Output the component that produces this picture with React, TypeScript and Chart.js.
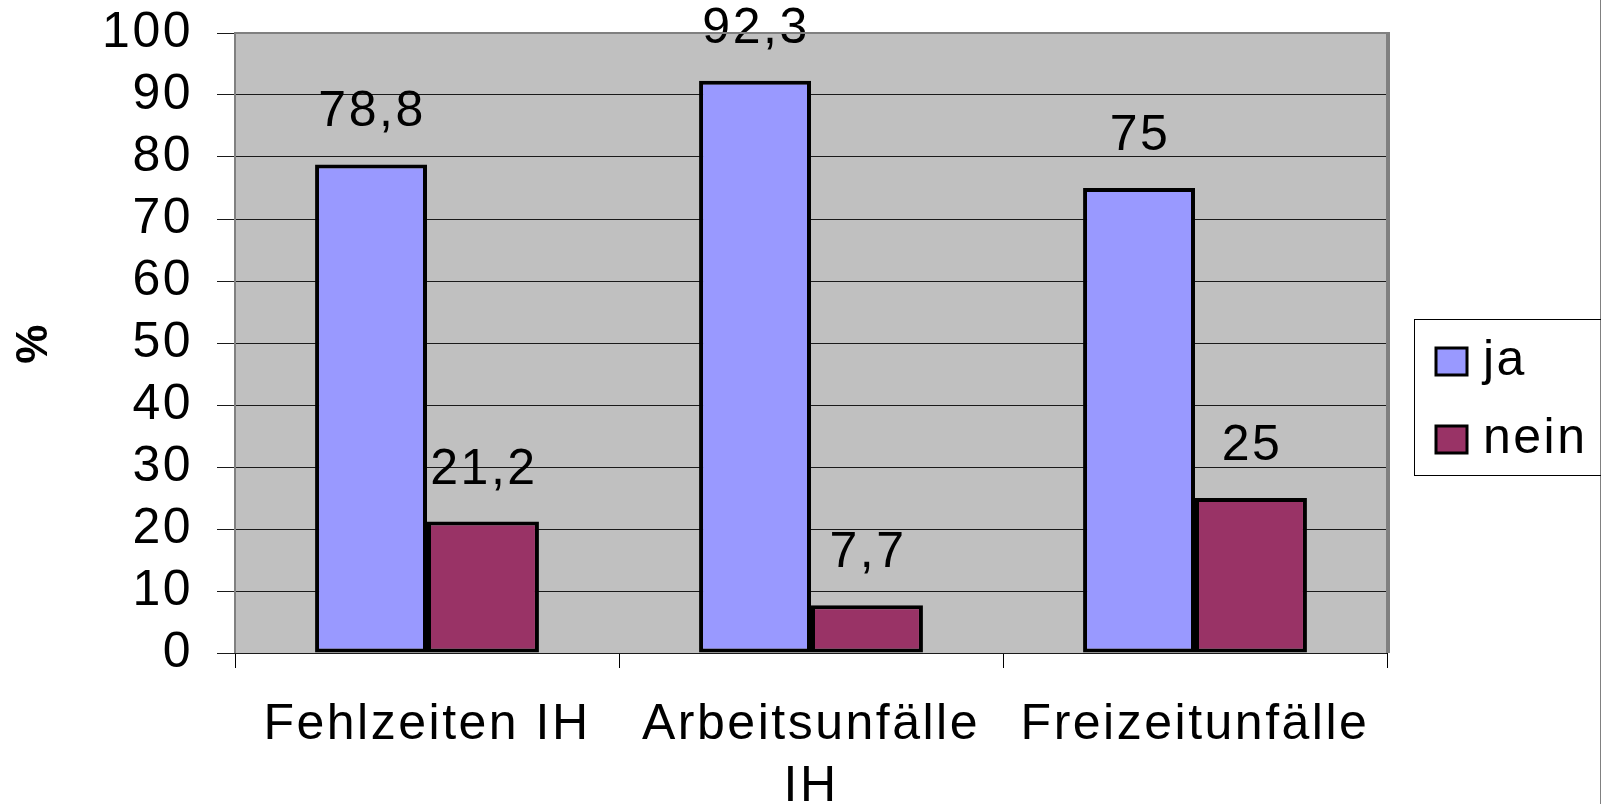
import React, { useEffect, useRef } from "react";
import { Chart, registerables } from "chart.js";

Chart.register(...registerables);

const categories: (string | string[])[] = ["Fehlzeiten IH", ["Arbeitsunfälle", "IH"], "Freizeitunfälle"];
const jaValues = [78.8, 92.3, 75];
const neinValues = [21.2, 7.7, 25];
const seriesNames = ["ja", "nein"];
const yTicksMin = 0;
const yTicksMax = 100;
const yTicksStep = 10;

const FONT = "'Liberation Sans', Arial, sans-serif";
const JA_COLOR = "#9999FF";
const NEIN_COLOR = "#993366";
const SPACING = "2.5px";

const spacingPlugin = {
  id: "spacing",
  beforeLayout(chart: any) {
    chart.ctx.letterSpacing = SPACING;
  },
  beforeDraw(chart: any) {
    chart.ctx.letterSpacing = SPACING;
  },
};

const framePlugin = {
  id: "frame",
  beforeDraw(chart: any) {
    const { ctx, chartArea } = chart;
    ctx.save();
    ctx.fillStyle = "#ffffff";
    ctx.fillRect(0, 0, chart.width, chart.height);
    ctx.fillStyle = "#C0C0C0";
    ctx.fillRect(chartArea.left, chartArea.top, chartArea.right - chartArea.left, chartArea.bottom - chartArea.top);
    ctx.restore();
  },
  afterDraw(chart: any) {
    const { ctx, chartArea } = chart;
    ctx.save();
    ctx.strokeStyle = "#808080";
    ctx.lineWidth = 2;
    ctx.beginPath();
    ctx.moveTo(chartArea.left, chartArea.bottom);
    ctx.lineTo(chartArea.left, chartArea.top);
    ctx.lineTo(chartArea.right, chartArea.top);
    ctx.stroke();
    ctx.lineWidth = 4;
    ctx.beginPath();
    ctx.moveTo(chartArea.right + 1, chartArea.top - 1);
    ctx.lineTo(chartArea.right + 1, chartArea.bottom);
    ctx.stroke();
    // outer frame line on right edge
    ctx.lineWidth = 1;
    ctx.beginPath();
    ctx.moveTo(chart.width - 0.5, 0);
    ctx.lineTo(chart.width - 0.5, chart.height);
    ctx.stroke();
    // legend
    const lx = 1414.5, ly = 319.5, lh = 156;
    ctx.strokeStyle = "#000000";
    ctx.lineWidth = 1;
    ctx.strokeRect(lx, ly, 220, lh);
    const colors = [JA_COLOR, NEIN_COLOR];
    const baselines = [375, 453];
    ctx.font = `50px ${FONT}`;
    ctx.letterSpacing = SPACING;
    ctx.textBaseline = "alphabetic";
    ctx.textAlign = "left";
    seriesNames.forEach((name, i) => {
      const sy = baselines[i] - 27;
      ctx.fillStyle = colors[i];
      ctx.fillRect(1436, sy, 31, 27);
      ctx.lineWidth = 3;
      ctx.strokeStyle = "#000";
      ctx.strokeRect(1436, sy, 31, 27);
      ctx.fillStyle = "#000";
      ctx.fillText(name, 1483, baselines[i]);
    });
    ctx.restore();
  },
};

const labelPlugin = {
  id: "valueLabels",
  afterDatasetsDraw(chart: any) {
    const { ctx } = chart;
    ctx.save();
    ctx.font = `50px ${FONT}`;
    ctx.letterSpacing = SPACING;
    ctx.fillStyle = "#000";
    ctx.textAlign = "center";
    ctx.textBaseline = "alphabetic";
    chart.data.datasets.forEach((ds: any, di: number) => {
      const meta = chart.getDatasetMeta(di);
      meta.data.forEach((el: any, i: number) => {
        const v = ds.data[i];
        const txt = String(v).replace(".", ",");
        ctx.fillText(txt, el.x + 1, el.y - 38);
      });
    });
    ctx.restore();
  },
};

export default function App() {
  const ref = useRef<HTMLCanvasElement>(null);
  useEffect(() => {
    if (!ref.current) return;
    const chart = new Chart(ref.current, {
      type: "bar",
      data: {
        labels: categories,
        datasets: [
          {
            label: seriesNames[0],
            data: jaValues,
            backgroundColor: JA_COLOR,
            borderColor: "#000",
            borderWidth: 4,
            borderSkipped: false,
            barPercentage: 1,
            categoryPercentage: 0.583,
          },
          {
            label: seriesNames[1],
            data: neinValues,
            backgroundColor: NEIN_COLOR,
            borderColor: "#000",
            borderWidth: 4,
            borderSkipped: false,
            barPercentage: 1,
            categoryPercentage: 0.583,
          },
        ],
      },
      options: {
        responsive: false,
        maintainAspectRatio: false,
        animation: false,
        layout: { padding: { top: 33, right: 214, left: 0, bottom: 0 } },
        plugins: {
          legend: { display: false },
          tooltip: { enabled: false },
        },
        scales: {
          x: {
            grid: {
              drawOnChartArea: false,
              offset: true,
              color: "#000",
              tickLength: 15,
              tickWidth: 1,
            },
            border: { display: false },
            ticks: {
              font: { family: FONT, size: 50, lineHeight: 1.24 },
              color: "#000",
              padding: 26,
              maxRotation: 0,
              autoSkip: false,
            },
            afterFit(scale: any) {
              scale.height = 151;
              scale.paddingLeft = 0;
              scale.paddingRight = 0;
            },
          },
          y: {
            min: yTicksMin,
            max: yTicksMax,
            grid: { color: "#1a1a1a", lineWidth: 1, tickLength: 18 },
            border: { display: false },
            ticks: {
              stepSize: yTicksStep,
              autoSkip: false,
              font: { family: FONT, size: 50 },
              color: "#000",
              padding: 24,
            },
            title: {
              display: true,
              text: "%",
              font: { family: FONT, size: 44, weight: "bold" },
              color: "#000",
              padding: { top: 8, bottom: 0 },
            },
            afterFit(scale: any) {
              scale.width = 235;
              scale.paddingTop = 0;
              scale.paddingBottom = 0;
            },
          },
        },
      },
      plugins: [spacingPlugin, framePlugin, labelPlugin],
    });
    return () => chart.destroy();
  }, []);
  return (
    <div style={{ position: "absolute", left: 0, top: 0, width: 1601, height: 804 }}>
      <canvas ref={ref} width={1601} height={804} style={{ display: "block" }} />
    </div>
  );
}
